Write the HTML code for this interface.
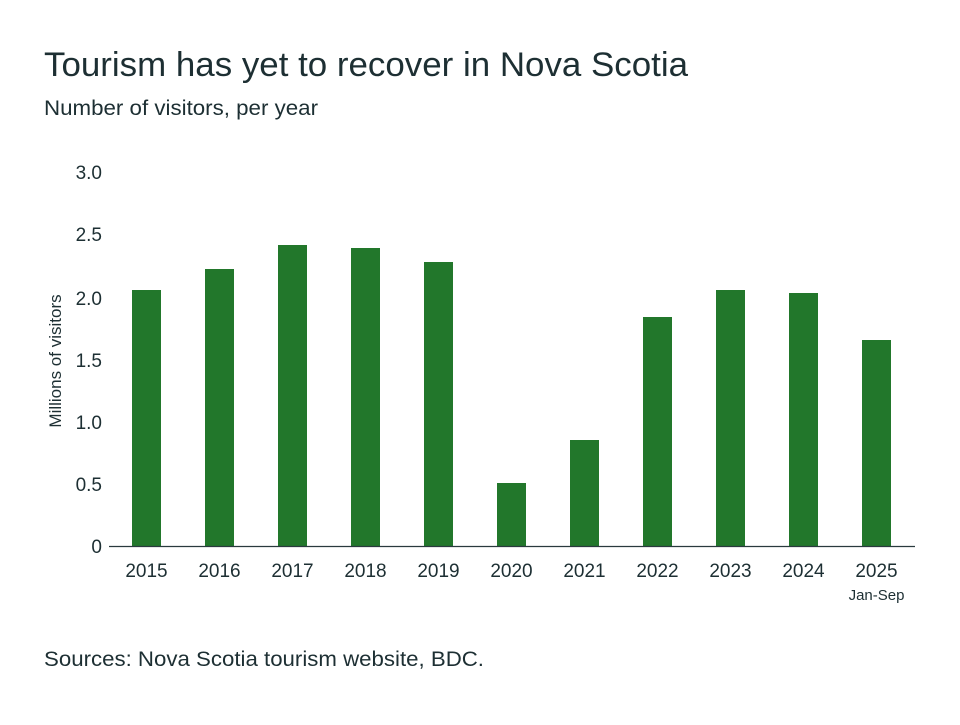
<!DOCTYPE html>
<html><head><meta charset="utf-8"><style>
body{margin:0;background:#fff;width:960px;height:720px;overflow:hidden;font-family:"Liberation Sans",sans-serif;color:#1d2f33}
</style></head><body>
<svg width="960" height="720" xmlns="http://www.w3.org/2000/svg" font-family="Liberation Sans, sans-serif" fill="#1d2f33">
<text x="44" y="76" font-size="34" textLength="644" lengthAdjust="spacingAndGlyphs">Tourism has yet to recover in Nova Scotia</text>
<text x="44" y="115" font-size="21" textLength="274" lengthAdjust="spacingAndGlyphs">Number of visitors, per year</text>
<g font-size="19" text-anchor="end">
<text x="102" y="179">3.0</text>
<text x="102" y="241">2.5</text>
<text x="102" y="305">2.0</text>
<text x="102" y="367">1.5</text>
<text x="102" y="429">1.0</text>
<text x="102" y="491">0.5</text>
<text x="102" y="553">0</text>
</g>
<text transform="translate(61,361) rotate(-90)" font-size="17" text-anchor="middle">Millions of visitors</text>
<g fill="#22772b">
<rect x="132" y="290" width="29" height="256"/>
<rect x="205" y="269" width="29" height="277"/>
<rect x="278" y="245" width="29" height="301"/>
<rect x="351" y="248" width="29" height="298"/>
<rect x="424" y="262" width="29" height="284"/>
<rect x="497" y="483" width="29" height="63"/>
<rect x="570" y="440" width="29" height="106"/>
<rect x="643" y="317" width="29" height="229"/>
<rect x="716" y="290" width="29" height="256"/>
<rect x="789" y="293" width="29" height="253"/>
<rect x="862" y="340" width="29" height="206"/>
</g>
<line x1="109" y1="546.5" x2="915" y2="546.5" stroke="#2a3a3e" stroke-width="1.2"/>
<g font-size="19" text-anchor="middle">
<text x="146.5" y="577">2015</text>
<text x="219.5" y="577">2016</text>
<text x="292.5" y="577">2017</text>
<text x="365.5" y="577">2018</text>
<text x="438.5" y="577">2019</text>
<text x="511.5" y="577">2020</text>
<text x="584.5" y="577">2021</text>
<text x="657.5" y="577">2022</text>
<text x="730.5" y="577">2023</text>
<text x="803.5" y="577">2024</text>
<text x="876.5" y="577">2025</text>
<text x="876.5" y="600" font-size="15">Jan-Sep</text>
</g>
<text x="44" y="666" font-size="21" textLength="440" lengthAdjust="spacingAndGlyphs">Sources: Nova Scotia tourism website, BDC.</text>
</svg>
</body></html>
